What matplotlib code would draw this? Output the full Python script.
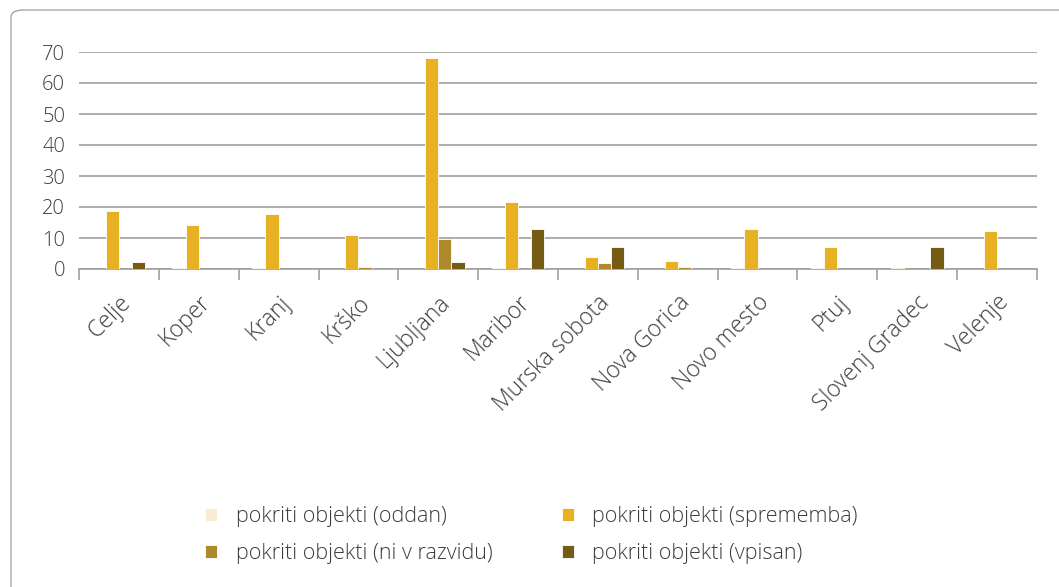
import matplotlib.pyplot as plt
from matplotlib.patches import FancyBboxPatch
import numpy as np

plt.rcParams['font.family'] = ['Open Sans', 'DejaVu Sans']
plt.rcParams['font.weight'] = 'light'

# categories and series
mesta = ['Celje', 'Koper', 'Kranj', 'Krško', 'Ljubljana', 'Maribor',
         'Murska sobota', 'Nova Gorica', 'Novo mesto', 'Ptuj',
         'Slovenj Gradec', 'Velenje']
oddan      = [0, 0.2, 0.2, 0, 0, 0.4, 0, 0, 0.4, 0.4, 0.5, 0]
sprememba  = [18.7, 14.1, 17.9, 10.9, 68.2, 21.5, 3.8, 2.6, 12.8, 7.0, 0, 12.1]
ni_razvidu = [0, 0, 0, 0.7, 9.6, 0, 1.9, 0.7, 0, 0, 0, 0]
vpisan     = [2.1, 0, 0, 0, 2.1, 12.8, 7.0, 0, 0, 0, 7.0, 0]

serije = [
    ('pokriti objekti (oddan)', oddan, '#FBEBD3'),
    ('pokriti objekti (sprememba)', sprememba, '#E8B123'),
    ('pokriti objekti (ni v razvidu)', ni_razvidu, '#AF8A2D'),
    ('pokriti objekti (vpisan)', vpisan, '#755B14'),
]
barva_teksta = '#3C3C3C'

fig = plt.figure(figsize=(10.59, 5.87), dpi=100)
ax = fig.add_axes([79/1059, 1 - 269/587, (1037 - 79)/1059, (269 - 52)/587])

# rounded frame around the chart
okvir = FancyBboxPatch((11/1059, -0.2), 1.2, 1 - 10/587 + 0.2,
                       boxstyle='round,pad=0,rounding_size=0.012',
                       transform=fig.transFigure, fill=False,
                       edgecolor='#A6A6A6', linewidth=1.0, clip_on=False)
fig.patches.append(okvir)

x = np.arange(len(mesta))
w = 0.165
handles = []
for i, (ime, vals, barva) in enumerate(serije):
    h = ax.bar(x + (i - 1.5) * w, vals, width=w, color=barva, edgecolor='white',
               linewidth=0.6, label=ime, zorder=3)
    handles.append(h)

ax.set_xlim(-0.5, len(mesta) - 0.5)
ax.set_ylim(0, 70)
ax.set_yticks(range(0, 71, 10))
ax.grid(axis='y', color='#A0A0A0', linewidth=1.2, zorder=0)
for s in ['top', 'right', 'left']:
    ax.spines[s].set_visible(False)
ax.spines['bottom'].set_color('#A0A0A0')
ax.spines['bottom'].set_linewidth(1.2)

ax.set_xticks(np.arange(-0.5, len(mesta), 1.0))
ax.set_xticklabels([])
ax.tick_params(axis='x', length=8, color='#A0A0A0', width=1.2)
ax.tick_params(axis='y', length=0, labelsize=14.5, labelcolor=barva_teksta, pad=10)

for xi, ime in zip(x, mesta):
    ax.text(xi, -7.0, ime, rotation=45, ha='right', va='top',
            rotation_mode='anchor', fontsize=16.5, color=barva_teksta)

# legend filled row by row
vrstni_red = [0, 2, 1, 3]
leg = fig.legend([handles[i] for i in vrstni_red],
                 [serije[i][0] for i in vrstni_red],
                 loc='center', bbox_to_anchor=(0.502, 1 - 535/587), ncol=2,
                 frameon=False, fontsize=15.5, handlelength=0.55, handleheight=0.55,
                 columnspacing=3.25, handletextpad=0.85, labelspacing=0.75)
for t in leg.get_texts():
    t.set_color(barva_teksta)

fig.savefig('out.png', dpi=100)
